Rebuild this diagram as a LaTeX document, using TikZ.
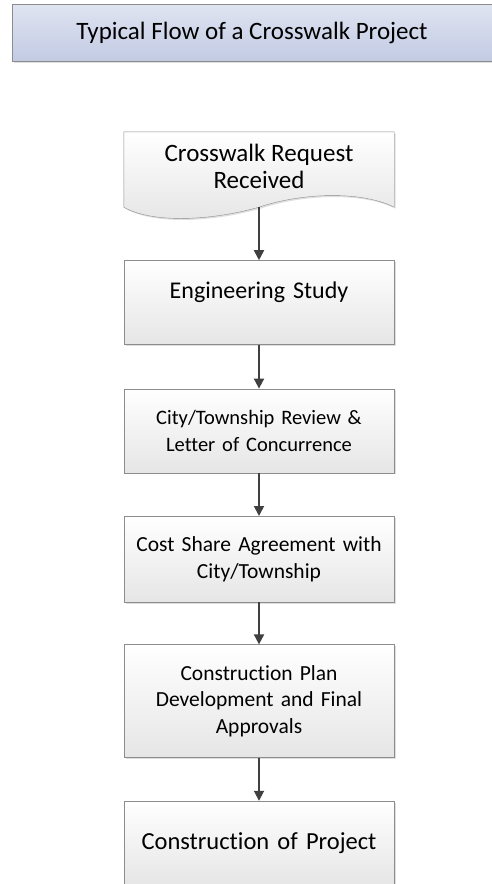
\documentclass[tikz,border=0pt]{standalone}
\usepackage{fontspec}
\setmainfont{Carlito}[Ligatures=NoCommon]
\usetikzlibrary{
  positioning,
  shadows,
  backgrounds,
  arrows.meta
}
\definecolor{boxline}{HTML}{8C8C8C}
\definecolor{arrowgray}{HTML}{404040}
\definecolor{headtop}{HTML}{DFE4F1}
\definecolor{headbottom}{HTML}{C3CBE4}

\begin{document}
\begin{tikzpicture}[x=1pt, y=-1pt,
    node distance=43pt,
  every node/.style = {inner sep=4pt},
  stepbox/.style = {shape=rectangle, draw=boxline, align=center,
    text width=262pt, minimum width=270pt, minimum height=84pt,
    top color=white, bottom color=gray!20,
    drop shadow={shadow xshift=1.5pt, shadow yshift=-1.5pt, fill=black!25}},
  head/.style = {shape=rectangle, draw=boxline,
    minimum width=480pt, minimum height=57pt,
    top color=headtop, bottom color=headbottom,
    font=\fontsize{25}{28}\selectfont,
    drop shadow={shadow xshift=1.5pt, shadow yshift=-1.5pt, fill=black!25}},
  link/.style = {draw=arrowgray, line width=1.8pt,
    -{Triangle[length=10pt, width=10pt]}}]
  \useasboundingbox (0,0) rectangle (492,884);
  \node[head] (title) at (252,32.5) {Typical Flow of a Crosswalk Project};
  \node[align=center, minimum width=270pt, minimum height=75pt,
    text height=46pt, text depth=9pt,
    font=\fontsize{25}{27}\selectfont] (request) at (259,169.5)
    {Crosswalk Request\\Received};
  \begin{scope}[on background layer]
    \path[draw=boxline, top color=white, bottom color=gray!20,
      drop shadow={shadow xshift=1.5pt, shadow yshift=-1.5pt, fill=black!25}]
      (request.north west) -- (request.north east) -- (request.south east)
      .. controls +(-34,-17) and +(41,-14) .. (request.south)
      .. controls +(-54,15) and +(26,15) .. (request.south west) -- cycle;
  \end{scope}
  \node[stepbox, below=53pt of request, text height=16pt, text depth=24pt,
    font=\fontsize{24}{28}\selectfont] (study) {Engineering Study};
  \node[stepbox, below=44pt of study,
    font=\fontsize{20.5}{27}\selectfont] (review)
    {City/Township Review \&\\Letter of Concurrence};
  \node[stepbox, below=of review, minimum height=86pt,
    font=\fontsize{21.5}{27}\selectfont] (costshare)
    {Cost Share Agreement with\\City/Township};
  \node[stepbox, below=42pt of costshare, minimum height=113pt,
    font=\fontsize{21.5}{26.5}\selectfont] (plan)
    {Construction Plan\\Development and Final\\Approvals};
  \node[stepbox, below=of plan,
    font=\fontsize{24.5}{28}\selectfont] (build) {Construction of Project};
  % connectors
  \draw[link] (request) -- (study);
  \draw[link] (study) -- (review);
  \draw[link] (review) -- (costshare);
  \draw[link] (costshare) -- (plan);
  \draw[link] (plan) -- (build);
\end{tikzpicture}
\end{document}
